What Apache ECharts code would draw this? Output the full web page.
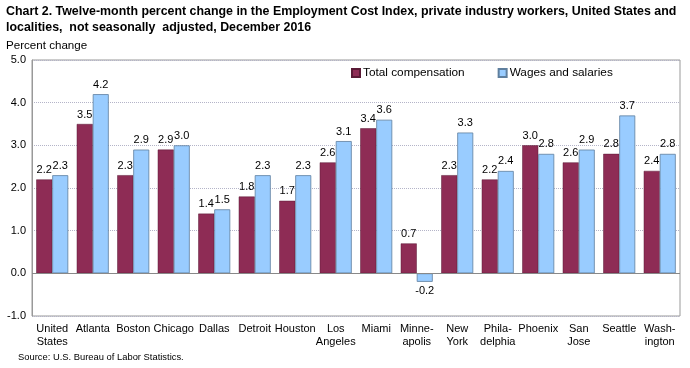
<!DOCTYPE html>
<html><head><meta charset="utf-8">
<script src="https://cdn.jsdelivr.net/npm/echarts@6/dist/echarts.min.js"></script>
<style>html,body{margin:0;padding:0;background:#fff;}#c{width:690px;height:368px;}</style>
</head><body><div id="c"></div>
<script>
var categories = ["United\nStates","Atlanta","Boston","Chicago","Dallas","Detroit","Houston","Los\nAngeles","Miami","Minne-\napolis","New\nYork","Phila-\ndelphia","Phoenix","San\nJose","Seattle","Wash-\nington"];
var totalCompensation = [2.2,3.5,2.3,2.9,1.4,1.8,1.7,2.6,3.4,0.7,2.3,2.2,3.0,2.6,2.8,2.4];
var wagesSalaries = [2.3,4.2,2.9,3.0,1.5,2.3,2.3,3.1,3.6,-0.2,3.3,2.4,2.8,2.9,3.7,2.8];
var seriesNames = ["Total compensation","Wages and salaries"];
var titleLines = ["Chart 2. Twelve-month percent change in the Employment Cost Index, private industry workers, United States and","localities,  not seasonally  adjusted, December 2016"];

var F = "'Liberation Sans', Arial, sans-serif";
function mk(vals){
  return vals.map(function(v){
    return v < 0 ? {value:v, label:{position:'bottom'}} : v;
  });
}
var chart = echarts.init(document.getElementById('c'));
chart.setOption({
  animation:false,
  textStyle:{fontFamily:F},
  graphic:[
    {type:'text',left:6,top:6,style:{text:titleLines[0],font:"bold 12.4px "+F,fill:'#000'}},
    {type:'text',left:6,top:22,style:{text:titleLines[1],font:"bold 12.4px "+F,fill:'#000'}},
    {type:'text',left:6,top:40,style:{text:'Percent change',font:"11.6px "+F,fill:'#000'}},
    {type:'text',left:18,top:353,style:{text:'Source: U.S. Bureau of Labor Statistics.',font:"9.4px "+F,fill:'#000'}}
  ],
  legend:{
    left:346, top:62, itemWidth:8, itemHeight:8, itemGap:33,
    icon:'rect',
    textStyle:{fontSize:11.8, color:'#000', fontFamily:F, padding:[0,0,0,-2]},
    data:seriesNames
  },
  grid:{left:32, right:10, top:60, height:256, show:true, borderColor:'#999', borderWidth:1},
  xAxis:{
    type:'category', data:categories,
    axisLine:{show:false, onZero:false},
    axisTick:{show:false},
    axisLabel:{fontSize:11, color:'#000', fontFamily:F, interval:0, margin:6, lineHeight:13, verticalAlign:'top'},
    position:'bottom'
  },
  yAxis:{
    type:'value', min:-1, max:5, interval:1,
    axisLine:{show:true, lineStyle:{color:'#999'}},
    axisTick:{show:false},
    axisLabel:{fontSize:11, color:'#000', fontFamily:F, formatter:function(v){return v.toFixed(1);}, margin:6},
    splitLine:{lineStyle:{color:'#b4b4c8', type:'dotted'}}
  },
  series:[
    {name:seriesNames[0], type:'bar', data:mk(totalCompensation), barGap:'0%', barCategoryGap:'21%',
     itemStyle:{color:'#8E2C55', borderColor:'#5a1a36', borderWidth:0.5},
     label:{show:true, position:'top', fontSize:11, color:'#000', fontFamily:F, distance:4, formatter:function(p){return p.value.toFixed(1);}},
     markLine:{silent:true, symbol:'none', label:{show:false}, lineStyle:{color:'#888', type:'solid', width:1}, data:[{yAxis:0}]}},
    {name:seriesNames[1], type:'bar', data:mk(wagesSalaries),
     itemStyle:{color:'#99CCFF', borderColor:'#5f7f9e', borderWidth:0.8},
     label:{show:true, position:'top', fontSize:11, color:'#000', fontFamily:F, distance:4, formatter:function(p){return p.value.toFixed(1);}}}
  ]
});
</script></body></html>
